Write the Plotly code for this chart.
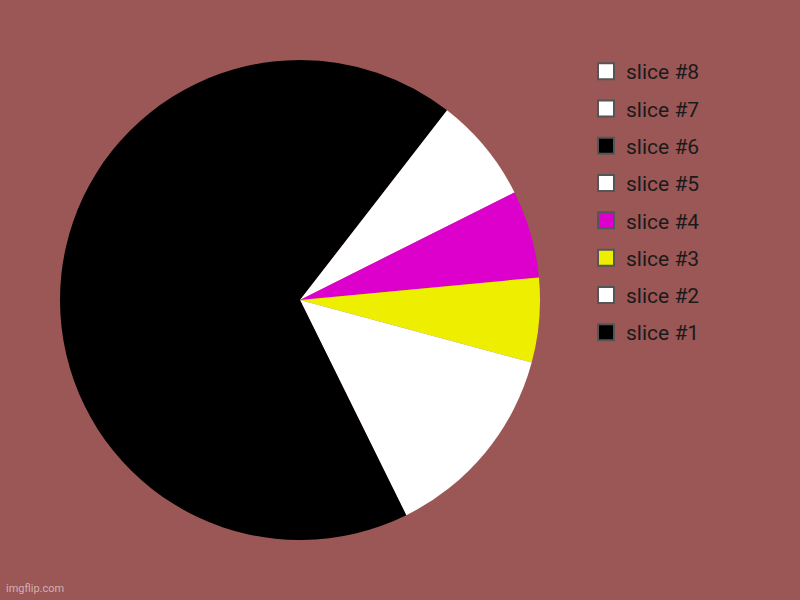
import plotly.graph_objects as go

labels = ['slice #1', 'slice #2', 'slice #3', 'slice #4',
          'slice #5', 'slice #6', 'slice #7', 'slice #8']
values = [57.3, 13.5, 5.7, 5.9, 7.1, 10.5, 0, 0]
colors = ['#000000', '#ffffff', '#eeee00', '#dd00cc',
          '#ffffff', '#000000', '#ffffff', '#ffffff']

bg = '#9b5656'

fig = go.Figure()

# source draws slices counter-clockwise from 12 o'clock, so feed them
# reversed and go clockwise
fig.add_trace(go.Pie(
    labels=labels[::-1],
    values=values[::-1],
    sort=False,
    direction='clockwise',
    rotation=0,
    textinfo='none',
    hoverinfo='label+value',
    marker=dict(colors=colors[::-1], line=dict(width=0)),
    domain=dict(x=[0.075, 0.675], y=[0.1, 0.9]),
    showlegend=False,
))

# legend entries (square swatches with grey border), last slice on top
for lab, col in zip(labels[::-1], colors[::-1]):
    fig.add_trace(go.Scatter(
        x=[None], y=[None],
        mode='markers',
        name=lab,
        legendgroup=lab,
        marker=dict(symbol='square', size=16, color=col,
                    line=dict(color='#555555', width=2)),
    ))

fig.update_layout(
    width=800, height=600,
    margin=dict(l=0, r=0, t=0, b=0),
    paper_bgcolor=bg,
    plot_bgcolor=bg,
    xaxis=dict(visible=False),
    yaxis=dict(visible=False),
    showlegend=True,
    legend=dict(
        x=0.7325, y=0.915, xanchor='left', yanchor='top',
        traceorder='grouped',
        tracegroupgap=7,
        font=dict(family='Roboto', size=21, color='#1a1a1a'),
        bgcolor='rgba(0,0,0,0)',
        itemsizing='trace',
    ),
    annotations=[dict(
        text='imgflip.com', x=0.005, y=0.005, xref='paper', yref='paper',
        xanchor='left', yanchor='bottom', showarrow=False,
        font=dict(family='Roboto', size=11, color='rgba(255,255,255,0.55)'),
    )],
)

fig.write_html("out.html",
               config={'displayModeBar': False},
               post_script="document.body.style.margin='0';")
